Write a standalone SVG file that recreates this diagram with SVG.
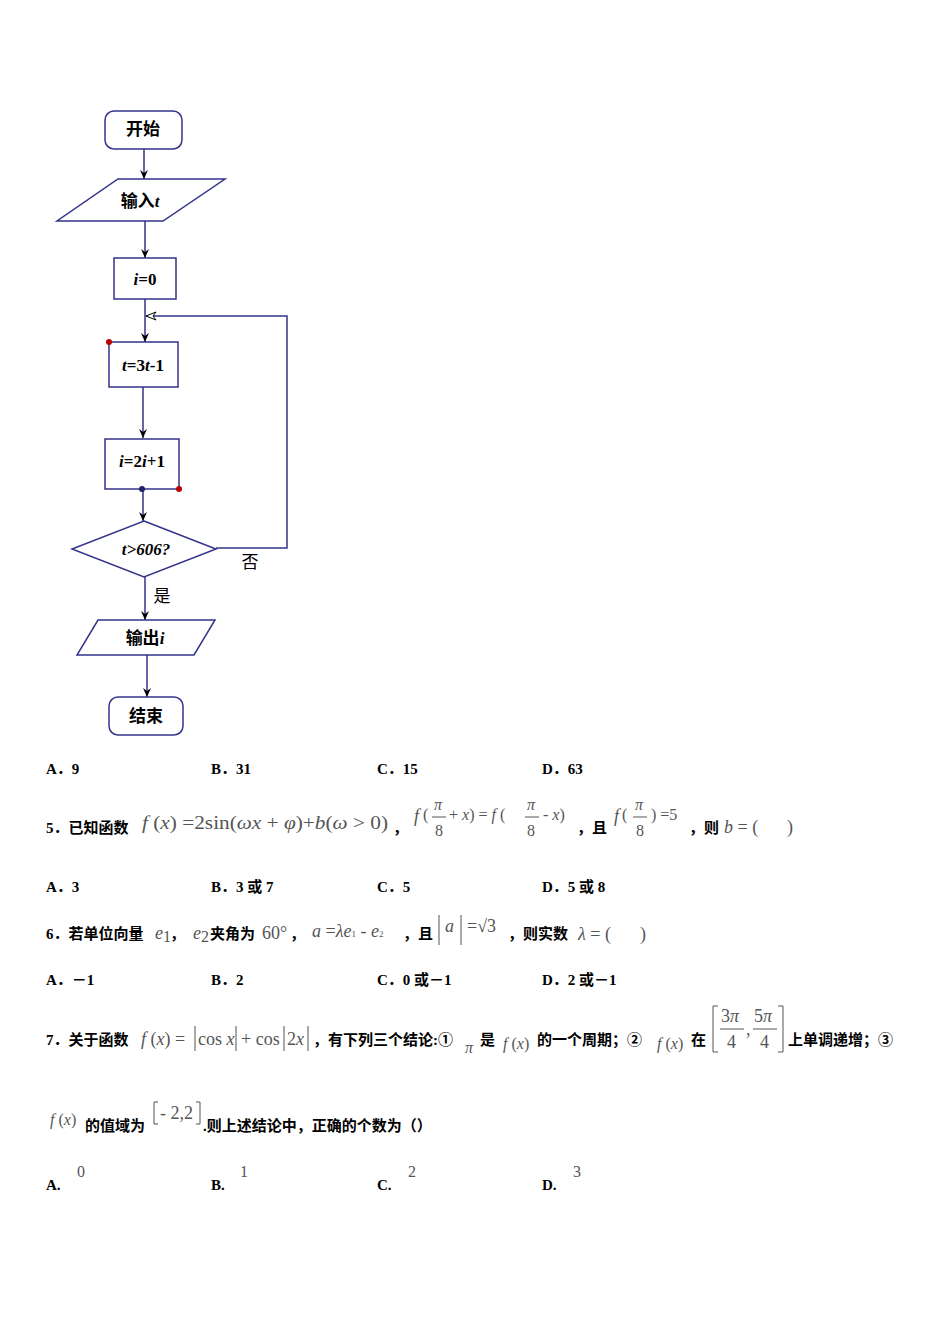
<svg xmlns="http://www.w3.org/2000/svg" width="950" height="1344" viewBox="0 0 950 1344">
<defs>
<marker id="ar" markerWidth="10" markerHeight="10" refX="9" refY="5" orient="auto" markerUnits="userSpaceOnUse"><path d="M0,1 L9,5 L0,9 L3,5 Z" fill="#000"/></marker>
</defs>
<style>
.n{fill:#fff;stroke:#33338a;stroke-width:1.5}
.c{fill:none;stroke:#33338a;stroke-width:1.5}
.t{font-family:"Liberation Serif","Noto Sans CJK SC",serif;font-size:17px;font-weight:bold;text-anchor:middle}
.q{font-family:"Liberation Serif","Noto Sans CJK SC",serif;font-size:15px;font-weight:bold}
.m{font-family:"Liberation Serif",serif;font-size:18px;fill:#555}
.s{font-family:"Liberation Serif",serif;font-size:16px;fill:#555}
</style>
<rect width="950" height="1344" fill="#fff"/>
<g id="connectors">
<path class="c" d="M144,149 V179" marker-end="url(#ar)"/>
<path class="c" d="M145,221 V258" marker-end="url(#ar)"/>
<path class="c" d="M145,299 V342" marker-end="url(#ar)"/>
<path class="c" d="M143,387 V438" marker-end="url(#ar)"/>
<path class="c" d="M143,489 V521" marker-end="url(#ar)"/>
<path class="c" d="M145,577 V620" marker-end="url(#ar)"/>
<path class="c" d="M147,655 V697" marker-end="url(#ar)"/>
<path class="c" d="M216,548 H287 V316 H146"/>
<path d="M146,316 L156,312 L153,316 L156,320 Z" fill="#fff" stroke="#000" stroke-width="1"/>
<text x="250" y="568" class="t" style="font-weight:normal">否</text>
<text x="162" y="602" class="t" style="font-weight:normal">是</text>
</g>
<g id="start"><rect class="n" x="105" y="111" width="77" height="38" rx="9"/><text class="t" x="143" y="135">开始</text></g>
<g id="input"><polygon class="n" points="118,179 225,179 163,221 57,221"/><text class="t" x="140" y="207">输入<tspan font-style="italic">t</tspan></text></g>
<g id="init"><rect class="n" x="114" y="258" width="62" height="41"/><text class="t" x="145" y="285"><tspan font-style="italic">i</tspan>=0</text></g>
<g id="step1"><rect class="n" x="109" y="342" width="69" height="45"/><text class="t" x="143" y="371"><tspan font-style="italic">t</tspan>=3<tspan font-style="italic">t</tspan>-1</text><circle cx="109" cy="342" r="3" fill="#b00"/></g>
<g id="step2"><rect class="n" x="105" y="439" width="74" height="50"/><text class="t" x="142" y="467"><tspan font-style="italic">i</tspan>=2<tspan font-style="italic">i</tspan>+1</text><circle cx="142" cy="489" r="3" fill="#226"/><circle cx="179" cy="489" r="3" fill="#b00"/></g>
<g id="cond"><polygon class="n" points="144,521 216,549 144,577 72,549"/><text class="t" x="146" y="555" font-style="italic">t&gt;606?</text></g>
<g id="output"><polygon class="n" points="98,620 215,620 194,655 77,655"/><text class="t" x="145" y="644">输出<tspan font-style="italic">i</tspan></text></g>
<g id="end"><rect class="n" x="109" y="697" width="74" height="38" rx="9"/><text class="t" x="146" y="722">结束</text></g>

<g id="text">
<text class="q" x="46" y="774">A．9</text><text class="q" x="211" y="774">B．31</text><text class="q" x="377" y="774">C．15</text><text class="q" x="542" y="774">D．63</text>

<text class="q" x="46" y="833">5．已知函数</text>
<text class="m" x="142" y="829" font-size="21" textLength="246" lengthAdjust="spacingAndGlyphs"><tspan font-style="italic">f</tspan> (<tspan font-style="italic">x</tspan>) =2sin(<tspan font-style="italic">ωx</tspan> + <tspan font-style="italic">φ</tspan>)+<tspan font-style="italic">b</tspan>(<tspan font-style="italic">ω</tspan> &gt; 0)</text>
<text class="q" x="393" y="833">，</text>
<text class="m" x="414" y="822" font-style="italic">f</text><text class="s" x="423" y="820">(</text>
<text class="s" x="434" y="810" font-style="italic">π</text><line x1="432" y1="817" x2="446" y2="817" stroke="#555"/><text class="s" x="435" y="836">8</text>
<text class="s" x="449" y="820">+ <tspan font-style="italic">x</tspan>) = <tspan font-style="italic">f</tspan> (</text>
<text class="s" x="527" y="810" font-style="italic">π</text><line x1="525" y1="817" x2="539" y2="817" stroke="#555"/><text class="s" x="527" y="836">8</text>
<text class="s" x="543" y="820">- <tspan font-style="italic">x</tspan>)</text>
<text class="q" x="577" y="833">，且</text>
<text class="m" x="614" y="822" font-style="italic">f</text><text class="s" x="622" y="820">(</text>
<text class="s" x="635" y="810" font-style="italic">π</text><line x1="633" y1="817" x2="647" y2="817" stroke="#555"/><text class="s" x="636" y="836">8</text>
<text class="s" x="651" y="820">) =5</text>
<text class="q" x="689" y="833">，则</text><text class="m" x="724" y="833"><tspan font-style="italic">b</tspan> = (</text><text class="m" x="787" y="833">)</text>

<text class="q" x="46" y="892">A．3</text><text class="q" x="211" y="892">B．3 或 7</text><text class="q" x="377" y="892">C．5</text><text class="q" x="542" y="892">D．5 或 8</text>

<text class="q" x="46" y="939">6．若单位向量</text>
<text class="m" x="155" y="939" font-style="italic">e</text><text class="s" x="163" y="942" font-size="9">1</text>
<text class="q" x="170" y="939">，</text>
<text class="m" x="193" y="939" font-style="italic">e</text><text class="s" x="201" y="942" font-size="9">2</text>
<text class="q" x="210" y="939">夹角为</text><text class="m" x="262" y="939">60°</text>
<text class="q" x="290" y="939">，</text>
<text class="m" x="312" y="937"><tspan font-style="italic">a</tspan> =<tspan font-style="italic">λe</tspan><tspan font-size="9">1</tspan> - <tspan font-style="italic">e</tspan><tspan font-size="9">2</tspan></text>
<text class="q" x="403" y="939">，且</text>
<line x1="439" y1="915" x2="439" y2="945" stroke="#555"/><text class="m" x="445" y="932" font-style="italic">a</text><line x1="461" y1="915" x2="461" y2="945" stroke="#555"/>
<text class="m" x="467" y="932">=√3</text>
<text class="q" x="508" y="939">，则实数</text><text class="m" x="578" y="940"><tspan font-style="italic">λ</tspan> = (</text><text class="m" x="640" y="940">)</text>

<text class="q" x="46" y="985">A．－1</text><text class="q" x="211" y="985">B．2</text><text class="q" x="377" y="985">C．0 或－1</text><text class="q" x="542" y="985">D．2 或－1</text>

<text class="q" x="46" y="1045">7．关于函数</text>
<text class="m" x="141" y="1045"><tspan font-style="italic">f</tspan> (<tspan font-style="italic">x</tspan>) =</text>
<line x1="195" y1="1026" x2="195" y2="1051" stroke="#555"/><text class="m" x="198" y="1045">cos <tspan font-style="italic">x</tspan></text><line x1="236" y1="1026" x2="236" y2="1051" stroke="#555"/>
<text class="m" x="241" y="1045">+ cos</text><line x1="284" y1="1026" x2="284" y2="1051" stroke="#555"/><text class="m" x="287" y="1045">2<tspan font-style="italic">x</tspan></text><line x1="308" y1="1026" x2="308" y2="1051" stroke="#555"/>
<text class="q" x="313" y="1045">，有下列三个结论:①</text>
<text class="s" x="465" y="1053" font-style="italic">π</text>
<text class="q" x="480" y="1045">是</text>
<text class="s" x="503" y="1049"><tspan font-style="italic">f</tspan> (<tspan font-style="italic">x</tspan>)</text>
<text class="q" x="537" y="1045">的一个周期；②</text>
<text class="s" x="657" y="1049"><tspan font-style="italic">f</tspan> (<tspan font-style="italic">x</tspan>)</text>
<text class="q" x="691" y="1045">在</text>
<path d="M718,1006 H713 V1052 H718 M778,1006 H783 V1052 H778" fill="none" stroke="#555"/>
<text class="m" x="721" y="1022">3<tspan font-style="italic">π</tspan></text><line x1="720" y1="1029" x2="744" y2="1029" stroke="#555"/><text class="m" x="727" y="1048">4</text>
<text class="m" x="746" y="1035">,</text>
<text class="m" x="754" y="1022">5<tspan font-style="italic">π</tspan></text><line x1="753" y1="1029" x2="777" y2="1029" stroke="#555"/><text class="m" x="760" y="1048">4</text>
<text class="q" x="788" y="1045">上单调递增；③</text>

<text class="s" x="50" y="1125"><tspan font-style="italic">f</tspan> (<tspan font-style="italic">x</tspan>)</text>
<text class="q" x="85" y="1131">的值域为</text>
<path d="M158,1102 H154 V1124 H158 M196,1102 H200 V1124 H196" fill="none" stroke="#555"/>
<text class="m" x="160" y="1119">- 2,2</text>
<text class="q" x="203" y="1131">.则上述结论中，正确的个数为（）</text>

<text class="q" x="46" y="1190">A.</text><text class="s" x="77" y="1177">0</text>
<text class="q" x="211" y="1190">B.</text><text class="s" x="240" y="1177">1</text>
<text class="q" x="377" y="1190">C.</text><text class="s" x="408" y="1177">2</text>
<text class="q" x="542" y="1190">D.</text><text class="s" x="573" y="1177">3</text>
</g>
</svg>
